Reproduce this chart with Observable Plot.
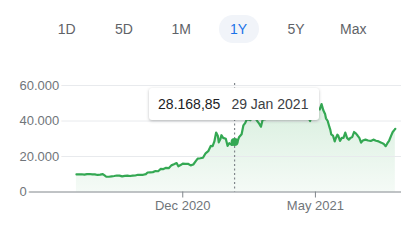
<!DOCTYPE html>
<html>
<head>
<meta charset="utf-8">
<script src="https://cdn.jsdelivr.net/npm/d3@7"></script>
<script src="https://cdn.jsdelivr.net/npm/@observablehq/plot@0.6"></script>
<style>
  html, body { margin: 0; padding: 0; background: #fff; }
  body { width: 411px; height: 244px; overflow: hidden; font-family: Arial, "Liberation Sans", sans-serif; }
  #ranges { height: 60px; display: flex; padding-left: 38px; box-sizing: border-box; }
  #ranges .cell { width: 57.33px; display: flex; align-items: center; justify-content: center; height: 58px; }
  #ranges .btn { font-size: 14px; color: #5f6368; padding: 0; height: 28px; line-height: 28px; border-radius: 14px; text-align: center; width: 40px; }
  #ranges .btn.sel { color: #1a73e8; background: #f1f4f9; }
  #wrap { position: relative; width: 411px; height: 184px; }
  #tip { position: absolute; background: #fff; height: 32px; width: 170px; box-sizing: border-box;
         border-radius: 3px; box-shadow: 0 1px 3px rgba(60,64,67,0.35); display: flex; align-items: center;
         padding-left: 9px; font-size: 14px; white-space: nowrap; }
  #tip .v { color: #202124; }
  #tip .d { color: #3c4043; margin-left: 11px; }
</style>
</head>
<body>
<svg width="0" height="0" style="position:absolute">
  <defs>
    <linearGradient id="areaGrad" x1="0" y1="0" x2="0" y2="1">
      <stop offset="0" stop-color="#34a853" stop-opacity="0.2"/>
      <stop offset="1" stop-color="#34a853" stop-opacity="0.05"/>
    </linearGradient>
  </defs>
</svg>
<div id="ranges"></div>
<div id="wrap"></div>
<script>
const ranges = ["1D", "5D", "1M", "1Y", "5Y", "Max"];
const selectedRange = "1Y";

const dates = [
  "2020-08-02","2020-08-05","2020-08-08","2020-08-11","2020-08-14","2020-08-17","2020-08-20","2020-08-23","2020-08-26","2020-08-29",
  "2020-09-01","2020-09-03","2020-09-05","2020-09-08","2020-09-11","2020-09-14","2020-09-17","2020-09-20","2020-09-23","2020-09-26","2020-09-29",
  "2020-10-02","2020-10-05","2020-10-08","2020-10-11","2020-10-14","2020-10-17","2020-10-20","2020-10-22","2020-10-25","2020-10-28","2020-10-31",
  "2020-11-03","2020-11-06","2020-11-09","2020-11-12","2020-11-15","2020-11-18","2020-11-21","2020-11-24","2020-11-26","2020-11-29",
  "2020-12-01","2020-12-04","2020-12-07","2020-12-10","2020-12-13","2020-12-16","2020-12-18","2020-12-21","2020-12-24","2020-12-27","2020-12-30",
  "2021-01-02","2021-01-04","2021-01-06","2021-01-08","2021-01-10","2021-01-11","2021-01-13","2021-01-14","2021-01-16","2021-01-19","2021-01-21","2021-01-23","2021-01-26","2021-01-29",
  "2021-02-01","2021-02-03","2021-02-06","2021-02-08","2021-02-10","2021-02-12","2021-02-16","2021-02-19","2021-02-21","2021-02-23","2021-02-26","2021-02-28",
  "2021-03-02","2021-03-05","2021-03-09","2021-03-13","2021-03-16","2021-03-20","2021-03-24","2021-03-27","2021-03-31",
  "2021-04-03","2021-04-07","2021-04-10","2021-04-14","2021-04-17","2021-04-20","2021-04-23","2021-04-25","2021-04-28",
  "2021-05-01","2021-05-04","2021-05-06","2021-05-08","2021-05-10","2021-05-12","2021-05-13","2021-05-15","2021-05-17","2021-05-18","2021-05-19","2021-05-21","2021-05-23","2021-05-24","2021-05-26","2021-05-27","2021-05-29","2021-05-31",
  "2021-06-02","2021-06-04","2021-06-06","2021-06-08","2021-06-10","2021-06-12","2021-06-14","2021-06-16","2021-06-18","2021-06-20","2021-06-22","2021-06-24","2021-06-27","2021-06-30",
  "2021-07-03","2021-07-06","2021-07-09","2021-07-12","2021-07-15","2021-07-18","2021-07-20","2021-07-22","2021-07-24","2021-07-26","2021-07-28","2021-07-30","2021-07-31"
];
const prices = [
  9900,9950,10000,9800,10050,10150,9950,9900,9600,9800,
  10100,9400,8600,8600,8800,9000,9300,9200,8800,9100,9200,
  9000,9200,9300,9700,9700,9700,10100,11000,11100,11200,11800,
  11700,13000,12900,13600,13400,15000,15600,16300,14500,15300,
  16000,15800,15900,15000,15500,17500,18800,19000,19300,21800,23000,
  26000,25800,28500,33500,31500,28000,30000,32000,30500,30000,26000,27500,26500,28168.85,
  28000,30800,32500,37500,38800,41000,40500,43000,47000,40500,38500,36800,
  40800,41000,45500,50000,46000,49000,44500,47000,50000,
  49000,47500,50500,53000,50000,46500,42000,40000,45500,
  47500,47000,46500,49500,46000,44000,41500,40000,36500,35000,32500,31800,28500,30000,32300,31800,28800,30500,
  30500,33500,30500,29500,30500,31000,33800,33000,31800,30500,27800,29000,29500,29000,
  28800,29500,28900,28500,27800,27000,25800,27500,29000,31500,33800,35000,35600
];
const yTicks = [0, 20000, 40000, 60000];
const xTicks = ["2020-12-01", "2021-05-01"];
const xDomain = ["2020-06-05", "2021-08-07"];
const hoverDate = "2021-01-29";
const hoverValue = 28168.85;

// range buttons
const rbox = document.getElementById("ranges");
for (const r of ranges) {
  const cell = document.createElement("div");
  cell.className = "cell";
  const b = document.createElement("div");
  b.className = "btn" + (r === selectedRange ? " sel" : "");
  b.textContent = r;
  cell.appendChild(b);
  rbox.appendChild(cell);
}

const parse = d3.utcParse("%Y-%m-%d");
const data = dates.map((d, i) => ({date: parse(d), price: prices[i]}));
const de = d3.formatLocale({decimal: ",", thousands: ".", grouping: [3], currency: ["", "€"]});
const fmtInt = de.format(",d");
const fmtVal = de.format(",.2f");
const fmtDate = d3.utcFormat("%-d %b %Y");
const fmtTick = d3.utcFormat("%b %Y");
const hover = {date: parse(hoverDate), price: hoverValue};

const chart = Plot.plot({
  width: 411,
  height: 184,
  marginTop: 25,
  marginBottom: 52.5,
  marginLeft: 25,
  marginRight: 10,
  style: {fontFamily: "Arial, 'Liberation Sans', sans-serif", fontSize: "13px", background: "transparent"},
  x: {type: "utc", domain: xDomain.map(parse), axis: null},
  y: {domain: [0, 60000], axis: null},
  marks: [
    Plot.areaY(data, {x: "date", y: "price", fill: "url(#areaGrad)"}),
    Plot.ruleY(yTicks.filter(d => d > 0), {stroke: "#e8eaed", strokeWidth: 1}),
    Plot.ruleY([0], {stroke: "#80868b", strokeWidth: 1}),
    Plot.ruleX([hover.date], {stroke: "#80868b", strokeWidth: 1.2, strokeDasharray: "2,2.5", insetTop: -2}),
    Plot.lineY(data, {x: "date", y: "price", stroke: "#34a853", strokeWidth: 2.2, strokeLinejoin: "round"}),
    Plot.dot([hover], {x: "date", y: "price", r: 4, fill: "#34a853"}),
    Plot.axisX(xTicks.map(parse), {tickSize: 6, tickPadding: 3, stroke: "#80868b", fill: "#70757a",
      tickFormat: fmtTick, fontSize: 13}),
    Plot.text(yTicks, {y: d => d, text: d => fmtInt(d), frameAnchor: "left", dx: -6, textAnchor: "start",
      fill: "#70757a", stroke: "white", strokeWidth: 5, fontSize: 13})
  ]
});
const wrap = document.getElementById("wrap");
wrap.appendChild(chart);

// tooltip positioned by the chart's scales
const xs = chart.scale("x");
const tip = document.createElement("div");
tip.id = "tip";
tip.style.left = (xs.apply(hover.date) - 85) + "px";
tip.style.top = "28px";
tip.innerHTML = `<span class="v">${fmtVal(hover.price)}</span><span class="d">${fmtDate(hover.date)}</span>`;
wrap.appendChild(tip);
</script>
</body>
</html>
